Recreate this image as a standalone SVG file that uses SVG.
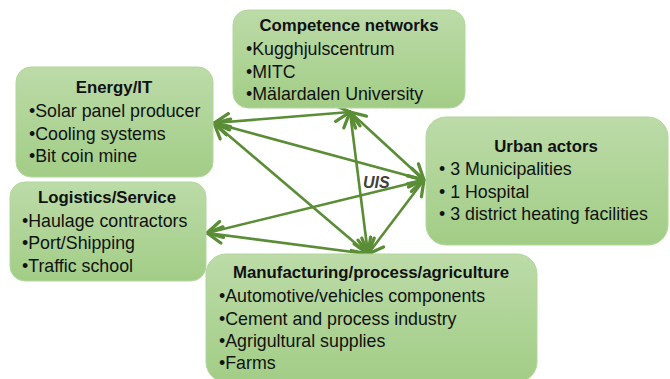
<svg xmlns="http://www.w3.org/2000/svg" width="670" height="379" viewBox="0 0 670 379">
<defs>
<linearGradient id="g" x1="0" y1="0" x2="0" y2="1">
<stop offset="0" stop-color="#bcdba8"/>
<stop offset="1" stop-color="#a2cd86"/>
</linearGradient>
<marker id="arr" markerUnits="userSpaceOnUse" markerWidth="20" markerHeight="20" viewBox="-14 -8 16 16" refX="0" refY="0" orient="auto-start-reverse">
<path d="M-12,-6.5 L0,0 L-12,6.5" fill="none" stroke="#5a8d36" stroke-width="2.6" stroke-linecap="round" stroke-linejoin="round"/>
</marker>
</defs>
<style>
.box{fill:url(#g);stroke:#b3d69d;stroke-width:1}
.t{font-family:"Liberation Sans",Arial,sans-serif;font-size:17.8px;fill:#111}
.h{font-family:"Liberation Sans",Arial,sans-serif;font-size:16.8px;font-weight:bold;fill:#111;text-anchor:middle}
.c{stroke:#5a8d36;stroke-width:2.6;fill:none;marker-start:url(#arr);marker-end:url(#arr)}
</style>
<rect width="670" height="379" fill="#fff"/>
<g id="connectors">
<line class="c" x1="214" y1="123" x2="350" y2="112"/>
<line class="c" x1="214" y1="123" x2="424" y2="180"/>
<line class="c" x1="214" y1="123" x2="368" y2="254"/>
<line class="c" x1="350" y1="112" x2="368" y2="254"/>
<line class="c" x1="350" y1="112" x2="424" y2="180"/>
<line class="c" x1="424" y1="180" x2="207" y2="233"/>
<line class="c" x1="424" y1="180" x2="368" y2="254"/>
<line class="c" x1="207" y1="233" x2="368" y2="254"/>
</g>
<g id="energy">
<rect class="box" x="16" y="67" width="197" height="110" rx="15"/>
<text class="h" x="114" y="93">Energy/IT</text>
<text class="t" x="29" y="117">•Solar panel producer</text>
<text class="t" x="29" y="140">•Cooling systems</text>
<text class="t" x="29" y="162">•Bit coin mine</text>
</g>
<g id="competence">
<rect class="box" x="233" y="10" width="232" height="98" rx="15"/>
<text class="h" x="349" y="31">Competence networks</text>
<text class="t" x="246" y="55">•Kugghjulscentrum</text>
<text class="t" x="246" y="78">•MITC</text>
<text class="t" x="246" y="100">•Mälardalen University</text>
</g>
<g id="urban">
<rect class="box" x="426" y="117" width="242" height="128" rx="20"/>
<text class="h" x="546" y="152">Urban actors</text>
<text class="t" x="439" y="175">• 3 Municipalities</text>
<text class="t" x="439" y="198">• 1 Hospital</text>
<text class="t" x="439" y="220">• 3 district heating facilities</text>
</g>
<g id="logistics">
<rect class="box" x="10" y="182" width="196" height="99" rx="15"/>
<text class="h" x="107" y="203">Logistics/Service</text>
<text class="t" x="22" y="227">•Haulage contractors</text>
<text class="t" x="22" y="249">•Port/Shipping</text>
<text class="t" x="22" y="272">•Traffic school</text>
</g>
<g id="manufacturing">
<rect class="box" x="206" y="254" width="331" height="128" rx="20"/>
<text class="h" x="371" y="278">Manufacturing/process/agriculture</text>
<text class="t" x="219" y="302">•Automotive/vehicles components</text>
<text class="t" x="219" y="325">•Cement and process industry</text>
<text class="t" x="219" y="347">•Agrigultural supplies</text>
<text class="t" x="219" y="369">•Farms</text>
</g>
<text x="363" y="188" font-family="Liberation Sans,Arial,sans-serif" font-size="16" font-style="italic" font-weight="bold" fill="#3f3f3f">UIS</text>
</svg>
